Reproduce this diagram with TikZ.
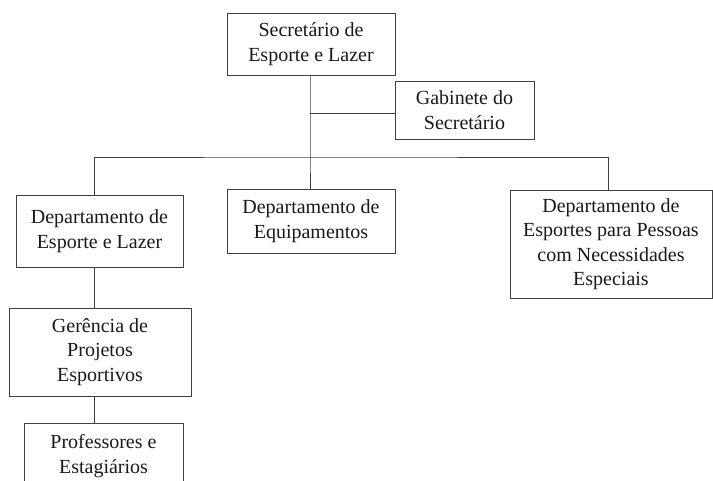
\documentclass[tikz,border=0pt]{standalone}
\usepackage{fontspec}
\setmainfont{Liberation Serif}
\tikzset{
  orgbox/.style={draw=black!75, line width=0.9pt, align=center, inner sep=2pt,
    font=\fontsize{20}{24.5}\selectfont, text=black!90},
  orgline/.style={draw=black!75, line width=0.9pt}
}
\begin{document}
\begin{tikzpicture}[x=1pt,y=1pt,yscale=-1]
\useasboundingbox (0,0) rectangle (713,480);
\node[orgbox, minimum width=168pt, minimum height=62pt] (sec) at (311,44) {Secretário de\\Esporte e Lazer};
\node[orgbox, minimum width=139pt, minimum height=58pt] (gab) at (464.5,110) {Gabinete do\\Secretário};
\node[orgbox, minimum width=167pt, minimum height=72pt] (dep1) at (99.5,231) {Departamento de\\Esporte e Lazer};
\node[orgbox, minimum width=168pt, minimum height=64pt] (dep2) at (311,221) {Departamento de\\Equipamentos};
\node[orgbox, minimum width=202pt, minimum height=108pt] (dep3) at (611,244) {Departamento de\\Esportes para Pessoas\\com Necessidades\\Especiais};
\node[orgbox, minimum width=182pt, minimum height=88pt] (ger) at (100,352) {Gerência de\\Projetos\\Esportivos};
\node[orgbox, minimum width=159pt, minimum height=66pt] (prof) at (103.5,456) {Professores e\\Estagiários};
\coordinate (bus) at (310,157);
\coordinate (side) at ([yshift=3pt]gab.west);
\coordinate (left) at ([xshift=-5.5pt]dep1.north);
\coordinate (right) at ([xshift=-3pt]dep3.north);
% connectors
\draw[orgline] (sec.south -| bus) -- (bus) -- (dep2.north -| bus);
\draw[orgline] (bus |- side) -- (side);
\draw[orgline] (left) |- (bus) -| (right);
\draw[orgline] (left |- dep1.south) -- (left |- ger.north);
\draw[orgline] (left |- ger.south) -- (left |- prof.north);
\end{tikzpicture}
\end{document}
